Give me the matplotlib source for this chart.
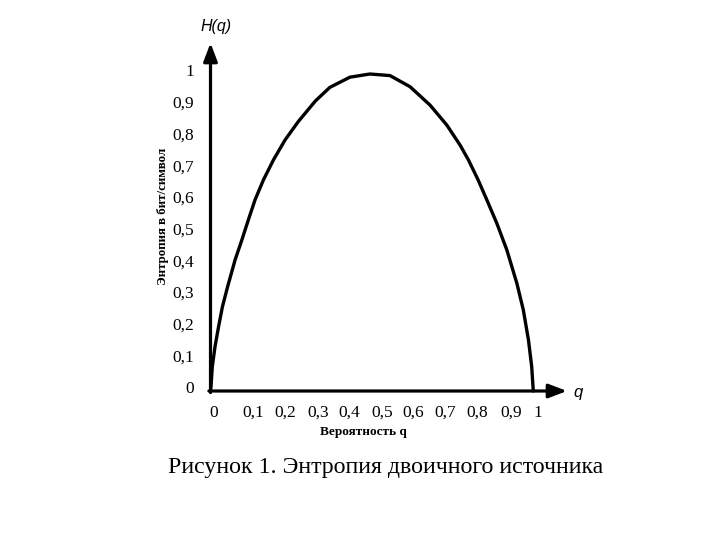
import numpy as np
import matplotlib
matplotlib.use('Agg')
import matplotlib.pyplot as plt

# точки кривой H(q)
q = [0.0, 0.0015, 0.0056, 0.014, 0.025, 0.037, 0.053, 0.076, 0.097, 0.117,
     0.138, 0.164, 0.195, 0.231, 0.272, 0.325, 0.370, 0.432, 0.494, 0.556,
     0.618, 0.680, 0.732, 0.773, 0.799, 0.829, 0.856, 0.887, 0.918, 0.949,
     0.969, 0.985, 0.995, 1.0]
H = [0.0, 0.014, 0.077, 0.140, 0.203, 0.266, 0.329, 0.413, 0.476, 0.539,
     0.603, 0.666, 0.729, 0.792, 0.850, 0.915, 0.958, 0.990, 1.0, 0.995,
     0.960, 0.902, 0.839, 0.776, 0.729, 0.666, 0.603, 0.529, 0.445, 0.340,
     0.256, 0.161, 0.077, 0.0]

x_labels = ['0', '0,1', '0,2', '0,3', '0,4', '0,5', '0,6', '0,7', '0,8', '0,9', '1']
x_label_pos = [0.011, 0.132, 0.231, 0.334, 0.430, 0.532, 0.628, 0.727, 0.826, 0.931, 1.015]
y_labels = ['0', '0,1', '0,2', '0,3', '0,4', '0,5', '0,6', '0,7', '0,8', '0,9', '1']
y_ticks = np.arange(0, 1.01, 0.1)

serif = ['Liberation Serif', 'DejaVu Serif']

fig = plt.figure(figsize=(7.2, 5.4), dpi=100)
# 0 -> (210.5, 391) px, 1 -> (533.3, 74) px
ax = fig.add_axes([210.5 / 720, 1 - 391 / 540, (567 - 210.5) / 720, (391 - 43) / 540])
ax.set_xlim(0, (567 - 210.5) / 322.8)
ax.set_ylim(0, (391 - 43) / 317)

ax.plot(q, H, color='black', lw=2.4, solid_joinstyle='round', solid_capstyle='round', clip_on=False)

for s in ax.spines.values():
    s.set_visible(False)

# оси со стрелками
arrow = dict(arrowstyle='-|>,head_length=1.1,head_width=0.42', lw=2.3, color='black',
             shrinkA=0, shrinkB=0)
ax.annotate('', xy=(ax.get_xlim()[1], 0), xytext=(-0.005, 0), arrowprops=arrow,
            annotation_clip=False)
ax.annotate('', xy=(0, ax.get_ylim()[1]), xytext=(0, -0.005), arrowprops=arrow,
            annotation_clip=False)

ax.set_xticks(x_label_pos)
ax.set_xticklabels(x_labels, family=serif, fontsize=12.5)
ax.set_yticks(y_ticks + 0.012)
ax.set_yticklabels(y_labels, family=serif, fontsize=12.5)
ax.tick_params(axis='both', length=0)
ax.tick_params(axis='x', pad=10)
ax.tick_params(axis='y', pad=12)

fig.text(363 / 720, 1 - 432 / 540, 'Вероятность q', family=serif, fontsize=9.5,
         fontweight='bold', ha='center', va='center')
fig.text(163 / 720, 1 - 216 / 540, 'Энтропия в бит/символ', family=serif, fontsize=9.3,
         fontweight='bold', ha='center', va='center', rotation=90)
fig.text(216 / 720, 1 - 27 / 540, 'H(q)', family=['Liberation Sans', 'DejaVu Sans'],
         fontsize=11.5, style='italic', ha='center', va='center')
fig.text(578 / 720, 1 - 392 / 540, 'q', family=['Liberation Sans', 'DejaVu Sans'],
         fontsize=12, style='italic', ha='center', va='center')

fig.text(386 / 720, 1 - 468 / 540, 'Рисунок 1. Энтропия двоичного источника',
         family=serif, fontsize=17.2, ha='center', va='center')

fig.savefig('out.png', dpi=100)
